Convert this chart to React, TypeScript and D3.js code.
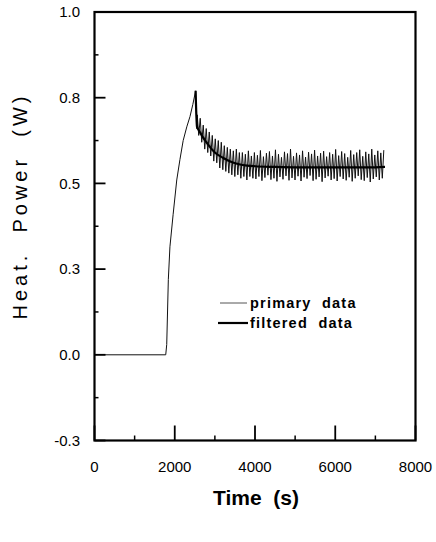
import React from "react";
import * as d3 from "d3";

// ---- data ----
const X_DOMAIN = [0, 8000];
const Y_DOMAIN = [-0.25, 1.0];
const xMajorTicks = [0, 2000, 4000, 6000, 8000];
const xMajorLabels = ["0", "2000", "4000", "6000", "8000"];
const xMinorTicks = [1000, 3000, 5000, 7000];
const yMajorTicks = [-0.25, 0, 0.25, 0.5, 0.75, 1.0];
const yMajorLabels = ["-0.3", "0.0", "0.3", "0.5", "0.8", "1.0"];
const yMinorTicks = [-0.125, 0.125, 0.375, 0.625, 0.875];

// primary data: baseline + heating rise up to the peak
const primaryRiseT = [0, 1775, 1800, 1840, 1880, 1960, 2050, 2130, 2210, 2300, 2380, 2450, 2520, 2550];
const primaryRiseV = [0, 0, 0.03, 0.22, 0.315, 0.41, 0.51, 0.57, 0.625, 0.665, 0.695, 0.73, 0.77, 0.66];

// primary data: oscillating part, sampled every 37.5 s from 2560 s
const primaryNoiseStart = 2560;
const primaryNoiseStep = 37.5;
const primaryNoiseV = [
  0.70, 0.64, 0.69, 0.62, 0.67, 0.60, 0.66, 0.59, 0.65, 0.58,
  0.64, 0.565, 0.63, 0.56, 0.625, 0.545, 0.62, 0.54, 0.61, 0.535,
  0.605, 0.53, 0.60, 0.525, 0.595, 0.52, 0.60, 0.525, 0.59, 0.515,
  0.59, 0.52, 0.585, 0.51, 0.595, 0.52, 0.58, 0.515,
  0.59, 0.513, 0.582, 0.52, 0.596, 0.508, 0.578, 0.517, 0.588, 0.524,
  0.593, 0.511, 0.58, 0.515, 0.598, 0.506, 0.585, 0.519, 0.576, 0.512,
  0.592, 0.522, 0.587, 0.509, 0.6, 0.516, 0.579, 0.51, 0.589, 0.521,
  0.583, 0.507, 0.595, 0.518, 0.577, 0.514, 0.591, 0.523, 0.586, 0.508,
  0.597, 0.512, 0.58, 0.519, 0.588, 0.505, 0.594, 0.516, 0.578, 0.521,
  0.59, 0.51, 0.585, 0.514, 0.599, 0.507, 0.581, 0.52, 0.593, 0.513,
  0.587, 0.509, 0.576, 0.518, 0.596, 0.506, 0.584, 0.515, 0.59, 0.522,
  0.598, 0.511, 0.579, 0.508, 0.592, 0.517, 0.586, 0.504, 0.6, 0.513,
  0.583, 0.519, 0.595, 0.51, 0.589, 0.515, 0.597,
];

// filtered data
const filteredT = [2520, 2555, 2600, 2700, 2800, 2900, 3000, 3200, 3400, 3600, 3800, 4000, 4500, 5000, 6000, 7000, 7240];
const filteredV = [0.77, 0.665, 0.655, 0.635, 0.618, 0.603, 0.59, 0.575, 0.563, 0.556, 0.552, 0.55, 0.548, 0.547, 0.547, 0.547, 0.548];

const legendLabels = ["primary  data", "filtered  data"];
const xTitle = "Time  (s)";
const yTitle = "Heat.  Power  (W)";

export default function App() {
  const W = 436, H = 542;
  const left = 94.5, right = 415.5, top = 12, bottom = 440.5;
  const x = d3.scaleLinear().domain(X_DOMAIN).range([left, right]);
  const y = d3.scaleLinear().domain(Y_DOMAIN).range([bottom, top]);

  const primary: [number, number][] = primaryRiseT.map((t, i) => [t, primaryRiseV[i]]);
  primaryNoiseV.forEach((v, i) => primary.push([primaryNoiseStart + i * primaryNoiseStep, v]));
  const filtered: [number, number][] = filteredT.map((t, i) => [t, filteredV[i]]);

  const line = d3.line<[number, number]>().x(d => x(d[0])).y(d => y(d[1]));
  const smooth = d3.line<[number, number]>().x(d => x(d[0])).y(d => y(d[1])).curve(d3.curveMonotoneX);

  const font = "'Liberation Sans', Arial, Helvetica, sans-serif";

  return (
    <svg width={W} height={H} style={{ position: "absolute", left: 0, top: 0, background: "#fff" }}>
      <rect x={0} y={0} width={W} height={H} fill="#fff" />
      {/* data */}
      <path d={line(primary) || ""} fill="none" stroke="#111" strokeWidth={1} />
      <path d={smooth(filtered) || ""} fill="none" stroke="#000" strokeWidth={2.2} />

      {/* frame */}
      <rect x={left} y={top} width={right - left} height={bottom - top} fill="none" stroke="#000" strokeWidth={2.2} />

      {/* y ticks */}
      {yMajorTicks.map((v, i) => (
        <g key={"ym" + i}>
          <line x1={left} x2={left + 11} y1={y(v)} y2={y(v)} stroke="#000" strokeWidth={1.8} />
          <text x={80} y={y(v)} dy="0.35em" textAnchor="end" fontFamily={font} fontSize={15} fill="#000">
            {yMajorLabels[i]}
          </text>
        </g>
      ))}
      {yMinorTicks.map((v, i) => (
        <line key={"yn" + i} x1={left} x2={left + 4} y1={y(v)} y2={y(v)} stroke="#000" strokeWidth={1.5} />
      ))}

      {/* x ticks */}
      {xMajorTicks.map((v, i) => (
        <g key={"xm" + i}>
          <line x1={x(v)} x2={x(v)} y1={bottom} y2={bottom - 15} stroke="#000" strokeWidth={1.8} />
          <text x={x(v)} y={472} textAnchor="middle" fontFamily={font} fontSize={15} fill="#000">
            {xMajorLabels[i]}
          </text>
        </g>
      ))}
      {xMinorTicks.map((v, i) => (
        <line key={"xn" + i} x1={x(v)} x2={x(v)} y1={bottom} y2={bottom - 5} stroke="#000" strokeWidth={1.5} />
      ))}

      {/* legend */}
      <line x1={220} x2={247} y1={303} y2={303} stroke="#555" strokeWidth={1} />
      <text x={250} y={308} fontFamily={font} fontSize={14.5} fontWeight="bold" fill="#000" style={{ whiteSpace: "pre" }} letterSpacing={1.2}>
        {legendLabels[0]}
      </text>
      <line x1={218} x2={248} y1={323} y2={323} stroke="#000" strokeWidth={2.2} />
      <text x={250} y={328} fontFamily={font} fontSize={14.5} fontWeight="bold" fill="#000" style={{ whiteSpace: "pre" }} letterSpacing={1.2}>
        {legendLabels[1]}
      </text>

      {/* axis titles */}
      <text x={256} y={505} textAnchor="middle" fontFamily={font} fontSize={21} fontWeight="bold" fill="#000" style={{ whiteSpace: "pre" }}>
        {xTitle}
      </text>
      <text transform="translate(27,206) rotate(-90)" textAnchor="middle" fontFamily={font} fontSize={20} fill="#000" style={{ whiteSpace: "pre" }} letterSpacing={4}>
        {yTitle}
      </text>
    </svg>
  );
}
